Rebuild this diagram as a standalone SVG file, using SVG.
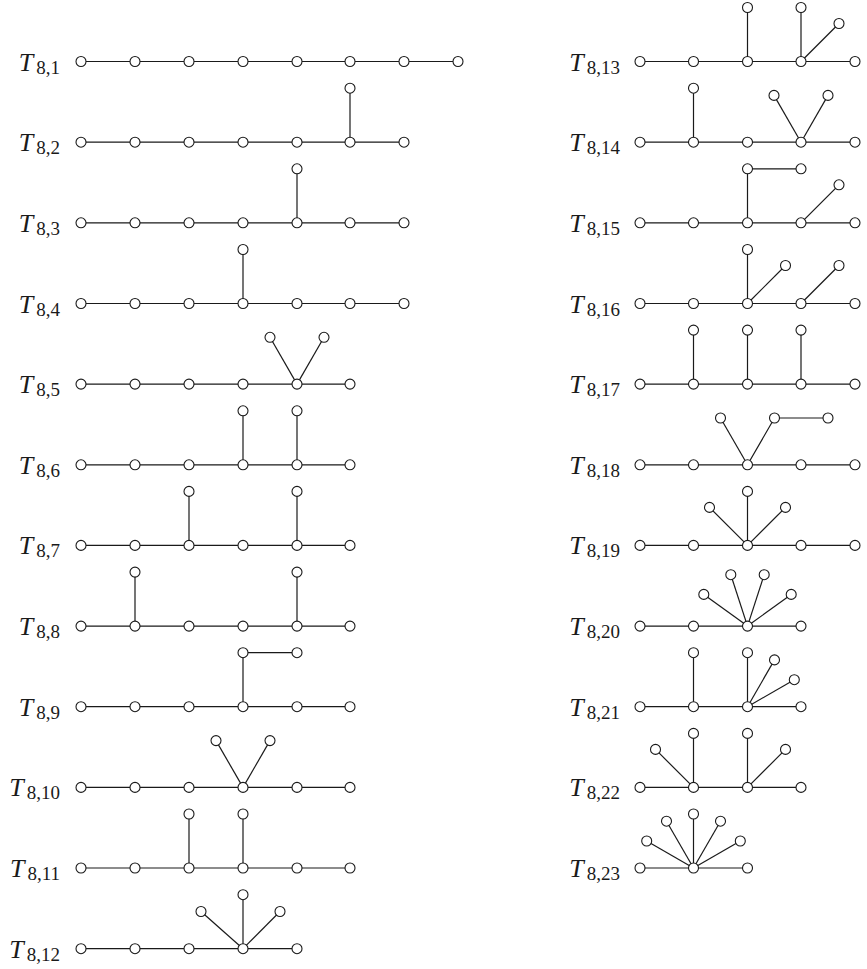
<svg xmlns="http://www.w3.org/2000/svg" width="867" height="969" viewBox="0 0 867 969">
<style>
.e line, .e polyline { stroke: #1a1a1a; stroke-width: 1.2; fill: none; }
circle { fill: #ffffff; stroke: #1a1a1a; stroke-width: 1.1; }
.lbl { font-family: "Liberation Serif", "DejaVu Serif", serif; font-size: 26px; fill: #1a1a1a; }
.lbl .T { font-style: italic; }
.lbl .s { font-size: 19px; }
</style>
<rect width="867" height="969" fill="#ffffff"/>
<g id="connectors" class="e">
<line x1="81" y1="61.5" x2="458" y2="61.5"/>
<line x1="81" y1="142.2" x2="404" y2="142.2"/><line x1="350" y1="142.2" x2="350" y2="88.2"/>
<line x1="81" y1="222.8" x2="404" y2="222.8"/><line x1="297" y1="222.8" x2="297" y2="168.8"/>
<line x1="81" y1="303.5" x2="404" y2="303.5"/><line x1="243" y1="303.5" x2="243" y2="249.5"/>
<line x1="81" y1="384.1" x2="350" y2="384.1"/><line x1="297" y1="384.1" x2="270" y2="337.3"/><line x1="297" y1="384.1" x2="324" y2="337.3"/>
<line x1="81" y1="464.8" x2="350" y2="464.8"/><line x1="243" y1="464.8" x2="243" y2="410.8"/><line x1="297" y1="464.8" x2="297" y2="410.8"/>
<line x1="81" y1="545.4" x2="350" y2="545.4"/><line x1="189" y1="545.4" x2="189" y2="491.4"/><line x1="297" y1="545.4" x2="297" y2="491.4"/>
<line x1="81" y1="626.1" x2="350" y2="626.1"/><line x1="135" y1="626.1" x2="135" y2="572.1"/><line x1="297" y1="626.1" x2="297" y2="572.1"/>
<line x1="81" y1="706.7" x2="350" y2="706.7"/><polyline points="243,706.7 243,652.7 297,652.7"/>
<line x1="81" y1="787.4" x2="350" y2="787.4"/><line x1="243" y1="787.4" x2="216" y2="740.6"/><line x1="243" y1="787.4" x2="270" y2="740.6"/>
<line x1="81" y1="868" x2="350" y2="868"/><line x1="189" y1="868" x2="189" y2="814"/><line x1="243" y1="868" x2="243" y2="814"/>
<line x1="81" y1="948.7" x2="297" y2="948.7"/><line x1="243" y1="948.7" x2="243" y2="894.7"/><line x1="243" y1="948.7" x2="201" y2="911.5"/><line x1="243" y1="948.7" x2="280" y2="911.5"/>
<line x1="640" y1="61.5" x2="855" y2="61.5"/><line x1="747.5" y1="61.5" x2="747.5" y2="7.5"/><line x1="801" y1="61.5" x2="801" y2="7.5"/><line x1="801" y1="61.5" x2="839" y2="23.5"/>
<line x1="640" y1="142.2" x2="855" y2="142.2"/><line x1="693.5" y1="142.2" x2="693.5" y2="88.2"/><line x1="801" y1="142.2" x2="774" y2="95.4"/><line x1="801" y1="142.2" x2="828" y2="95.4"/>
<line x1="640" y1="222.8" x2="855" y2="222.8"/><polyline points="747.5,222.8 747.5,168.8 801,168.8"/><line x1="801" y1="222.8" x2="839" y2="184.8"/>
<line x1="640" y1="303.5" x2="855" y2="303.5"/><line x1="747.5" y1="303.5" x2="747.5" y2="249.5"/><line x1="747.5" y1="303.5" x2="785.5" y2="265.5"/><line x1="801" y1="303.5" x2="839" y2="265.5"/>
<line x1="640" y1="384.1" x2="855" y2="384.1"/><line x1="693.5" y1="384.1" x2="693.5" y2="330.1"/><line x1="747.5" y1="384.1" x2="747.5" y2="330.1"/><line x1="801" y1="384.1" x2="801" y2="330.1"/>
<line x1="640" y1="464.8" x2="855" y2="464.8"/><line x1="747.5" y1="464.8" x2="720.5" y2="418"/><polyline points="747.5,464.8 774.5,418 828,418"/>
<line x1="640" y1="545.4" x2="855" y2="545.4"/><line x1="747.5" y1="545.4" x2="747.5" y2="491.4"/><line x1="747.5" y1="545.4" x2="709.5" y2="507.4"/><line x1="747.5" y1="545.4" x2="785.5" y2="507.4"/>
<line x1="640" y1="626.1" x2="801" y2="626.1"/><line x1="747.5" y1="626.1" x2="703.8" y2="594.4"/><line x1="747.5" y1="626.1" x2="730.8" y2="574.7"/><line x1="747.5" y1="626.1" x2="764.2" y2="574.7"/><line x1="747.5" y1="626.1" x2="791.2" y2="594.4"/>
<line x1="640" y1="706.7" x2="801" y2="706.7"/><line x1="693.5" y1="706.7" x2="693.5" y2="652.7"/><line x1="747.5" y1="706.7" x2="747.5" y2="652.7"/><line x1="747.5" y1="706.7" x2="774.5" y2="659.9"/><line x1="747.5" y1="706.7" x2="794.3" y2="679.7"/>
<line x1="640" y1="787.4" x2="801" y2="787.4"/><line x1="693.5" y1="787.4" x2="693.5" y2="733.4"/><line x1="693.5" y1="787.4" x2="655.5" y2="749.4"/><line x1="747.5" y1="787.4" x2="747.5" y2="733.4"/><line x1="747.5" y1="787.4" x2="785.5" y2="749.4"/>
<line x1="640" y1="868" x2="747.5" y2="868"/><line x1="693.5" y1="868" x2="646.7" y2="841"/><line x1="693.5" y1="868" x2="666.5" y2="821.2"/><line x1="693.5" y1="868" x2="693.5" y2="814"/><line x1="693.5" y1="868" x2="720.5" y2="821.2"/><line x1="693.5" y1="868" x2="740.3" y2="841"/>
</g>

<g id="T8_1">
<text class="lbl" x="60" y="70.5" text-anchor="end"><tspan class="T">T</tspan><tspan class="s" dx="3" dy="3">8,1</tspan></text>
<circle cx="81" cy="61.5" r="5"/><circle cx="135" cy="61.5" r="5"/><circle cx="189" cy="61.5" r="5"/><circle cx="243" cy="61.5" r="5"/><circle cx="297" cy="61.5" r="5"/><circle cx="350" cy="61.5" r="5"/><circle cx="404" cy="61.5" r="5"/><circle cx="458" cy="61.5" r="5"/>
</g>
<g id="T8_2">
<text class="lbl" x="60" y="151.2" text-anchor="end"><tspan class="T">T</tspan><tspan class="s" dx="3" dy="3">8,2</tspan></text>
<circle cx="81" cy="142.2" r="5"/><circle cx="135" cy="142.2" r="5"/><circle cx="189" cy="142.2" r="5"/><circle cx="243" cy="142.2" r="5"/><circle cx="297" cy="142.2" r="5"/><circle cx="350" cy="142.2" r="5"/><circle cx="404" cy="142.2" r="5"/><circle cx="350" cy="88.2" r="5"/>
</g>
<g id="T8_3">
<text class="lbl" x="60" y="231.8" text-anchor="end"><tspan class="T">T</tspan><tspan class="s" dx="3" dy="3">8,3</tspan></text>
<circle cx="81" cy="222.8" r="5"/><circle cx="135" cy="222.8" r="5"/><circle cx="189" cy="222.8" r="5"/><circle cx="243" cy="222.8" r="5"/><circle cx="297" cy="222.8" r="5"/><circle cx="350" cy="222.8" r="5"/><circle cx="404" cy="222.8" r="5"/><circle cx="297" cy="168.8" r="5"/>
</g>
<g id="T8_4">
<text class="lbl" x="60" y="312.5" text-anchor="end"><tspan class="T">T</tspan><tspan class="s" dx="3" dy="3">8,4</tspan></text>
<circle cx="81" cy="303.5" r="5"/><circle cx="135" cy="303.5" r="5"/><circle cx="189" cy="303.5" r="5"/><circle cx="243" cy="303.5" r="5"/><circle cx="297" cy="303.5" r="5"/><circle cx="350" cy="303.5" r="5"/><circle cx="404" cy="303.5" r="5"/><circle cx="243" cy="249.5" r="5"/>
</g>
<g id="T8_5">
<text class="lbl" x="60" y="393.1" text-anchor="end"><tspan class="T">T</tspan><tspan class="s" dx="3" dy="3">8,5</tspan></text>
<circle cx="81" cy="384.1" r="5"/><circle cx="135" cy="384.1" r="5"/><circle cx="189" cy="384.1" r="5"/><circle cx="243" cy="384.1" r="5"/><circle cx="297" cy="384.1" r="5"/><circle cx="350" cy="384.1" r="5"/><circle cx="270" cy="337.3" r="5"/><circle cx="324" cy="337.3" r="5"/>
</g>
<g id="T8_6">
<text class="lbl" x="60" y="473.8" text-anchor="end"><tspan class="T">T</tspan><tspan class="s" dx="3" dy="3">8,6</tspan></text>
<circle cx="81" cy="464.8" r="5"/><circle cx="135" cy="464.8" r="5"/><circle cx="189" cy="464.8" r="5"/><circle cx="243" cy="464.8" r="5"/><circle cx="297" cy="464.8" r="5"/><circle cx="350" cy="464.8" r="5"/><circle cx="243" cy="410.8" r="5"/><circle cx="297" cy="410.8" r="5"/>
</g>
<g id="T8_7">
<text class="lbl" x="60" y="554.4" text-anchor="end"><tspan class="T">T</tspan><tspan class="s" dx="3" dy="3">8,7</tspan></text>
<circle cx="81" cy="545.4" r="5"/><circle cx="135" cy="545.4" r="5"/><circle cx="189" cy="545.4" r="5"/><circle cx="243" cy="545.4" r="5"/><circle cx="297" cy="545.4" r="5"/><circle cx="350" cy="545.4" r="5"/><circle cx="189" cy="491.4" r="5"/><circle cx="297" cy="491.4" r="5"/>
</g>
<g id="T8_8">
<text class="lbl" x="60" y="635.1" text-anchor="end"><tspan class="T">T</tspan><tspan class="s" dx="3" dy="3">8,8</tspan></text>
<circle cx="81" cy="626.1" r="5"/><circle cx="135" cy="626.1" r="5"/><circle cx="189" cy="626.1" r="5"/><circle cx="243" cy="626.1" r="5"/><circle cx="297" cy="626.1" r="5"/><circle cx="350" cy="626.1" r="5"/><circle cx="135" cy="572.1" r="5"/><circle cx="297" cy="572.1" r="5"/>
</g>
<g id="T8_9">
<text class="lbl" x="60" y="715.7" text-anchor="end"><tspan class="T">T</tspan><tspan class="s" dx="3" dy="3">8,9</tspan></text>
<circle cx="81" cy="706.7" r="5"/><circle cx="135" cy="706.7" r="5"/><circle cx="189" cy="706.7" r="5"/><circle cx="243" cy="706.7" r="5"/><circle cx="297" cy="706.7" r="5"/><circle cx="350" cy="706.7" r="5"/><circle cx="243" cy="652.7" r="5"/><circle cx="297" cy="652.7" r="5"/>
</g>
<g id="T8_10">
<text class="lbl" x="60" y="796.4" text-anchor="end"><tspan class="T">T</tspan><tspan class="s" dx="3" dy="3">8,10</tspan></text>
<circle cx="81" cy="787.4" r="5"/><circle cx="135" cy="787.4" r="5"/><circle cx="189" cy="787.4" r="5"/><circle cx="243" cy="787.4" r="5"/><circle cx="297" cy="787.4" r="5"/><circle cx="350" cy="787.4" r="5"/><circle cx="216" cy="740.6" r="5"/><circle cx="270" cy="740.6" r="5"/>
</g>
<g id="T8_11">
<text class="lbl" x="60" y="877" text-anchor="end"><tspan class="T">T</tspan><tspan class="s" dx="3" dy="3">8,11</tspan></text>
<circle cx="81" cy="868" r="5"/><circle cx="135" cy="868" r="5"/><circle cx="189" cy="868" r="5"/><circle cx="243" cy="868" r="5"/><circle cx="297" cy="868" r="5"/><circle cx="350" cy="868" r="5"/><circle cx="189" cy="814" r="5"/><circle cx="243" cy="814" r="5"/>
</g>
<g id="T8_12">
<text class="lbl" x="60" y="957.7" text-anchor="end"><tspan class="T">T</tspan><tspan class="s" dx="3" dy="3">8,12</tspan></text>
<circle cx="81" cy="948.7" r="5"/><circle cx="135" cy="948.7" r="5"/><circle cx="189" cy="948.7" r="5"/><circle cx="243" cy="948.7" r="5"/><circle cx="297" cy="948.7" r="5"/><circle cx="243" cy="894.7" r="5"/><circle cx="201" cy="911.5" r="5"/><circle cx="280" cy="911.5" r="5"/>
</g>

<g id="T8_13">
<text class="lbl" x="620" y="70.5" text-anchor="end"><tspan class="T">T</tspan><tspan class="s" dx="3" dy="3">8,13</tspan></text>
<circle cx="640" cy="61.5" r="5"/><circle cx="693.5" cy="61.5" r="5"/><circle cx="747.5" cy="61.5" r="5"/><circle cx="801" cy="61.5" r="5"/><circle cx="855" cy="61.5" r="5"/><circle cx="747.5" cy="7.5" r="5"/><circle cx="801" cy="7.5" r="5"/><circle cx="839" cy="23.5" r="5"/>
</g>
<g id="T8_14">
<text class="lbl" x="620" y="151.2" text-anchor="end"><tspan class="T">T</tspan><tspan class="s" dx="3" dy="3">8,14</tspan></text>
<circle cx="640" cy="142.2" r="5"/><circle cx="693.5" cy="142.2" r="5"/><circle cx="747.5" cy="142.2" r="5"/><circle cx="801" cy="142.2" r="5"/><circle cx="855" cy="142.2" r="5"/><circle cx="693.5" cy="88.2" r="5"/><circle cx="774" cy="95.4" r="5"/><circle cx="828" cy="95.4" r="5"/>
</g>
<g id="T8_15">
<text class="lbl" x="620" y="231.8" text-anchor="end"><tspan class="T">T</tspan><tspan class="s" dx="3" dy="3">8,15</tspan></text>
<circle cx="640" cy="222.8" r="5"/><circle cx="693.5" cy="222.8" r="5"/><circle cx="747.5" cy="222.8" r="5"/><circle cx="801" cy="222.8" r="5"/><circle cx="855" cy="222.8" r="5"/><circle cx="747.5" cy="168.8" r="5"/><circle cx="801" cy="168.8" r="5"/><circle cx="839" cy="184.8" r="5"/>
</g>
<g id="T8_16">
<text class="lbl" x="620" y="312.5" text-anchor="end"><tspan class="T">T</tspan><tspan class="s" dx="3" dy="3">8,16</tspan></text>
<circle cx="640" cy="303.5" r="5"/><circle cx="693.5" cy="303.5" r="5"/><circle cx="747.5" cy="303.5" r="5"/><circle cx="801" cy="303.5" r="5"/><circle cx="855" cy="303.5" r="5"/><circle cx="747.5" cy="249.5" r="5"/><circle cx="785.5" cy="265.5" r="5"/><circle cx="839" cy="265.5" r="5"/>
</g>
<g id="T8_17">
<text class="lbl" x="620" y="393.1" text-anchor="end"><tspan class="T">T</tspan><tspan class="s" dx="3" dy="3">8,17</tspan></text>
<circle cx="640" cy="384.1" r="5"/><circle cx="693.5" cy="384.1" r="5"/><circle cx="747.5" cy="384.1" r="5"/><circle cx="801" cy="384.1" r="5"/><circle cx="855" cy="384.1" r="5"/><circle cx="693.5" cy="330.1" r="5"/><circle cx="747.5" cy="330.1" r="5"/><circle cx="801" cy="330.1" r="5"/>
</g>
<g id="T8_18">
<text class="lbl" x="620" y="473.8" text-anchor="end"><tspan class="T">T</tspan><tspan class="s" dx="3" dy="3">8,18</tspan></text>
<circle cx="640" cy="464.8" r="5"/><circle cx="693.5" cy="464.8" r="5"/><circle cx="747.5" cy="464.8" r="5"/><circle cx="801" cy="464.8" r="5"/><circle cx="855" cy="464.8" r="5"/><circle cx="720.5" cy="418" r="5"/><circle cx="774.5" cy="418" r="5"/><circle cx="828" cy="418" r="5"/>
</g>
<g id="T8_19">
<text class="lbl" x="620" y="554.4" text-anchor="end"><tspan class="T">T</tspan><tspan class="s" dx="3" dy="3">8,19</tspan></text>
<circle cx="640" cy="545.4" r="5"/><circle cx="693.5" cy="545.4" r="5"/><circle cx="747.5" cy="545.4" r="5"/><circle cx="801" cy="545.4" r="5"/><circle cx="855" cy="545.4" r="5"/><circle cx="747.5" cy="491.4" r="5"/><circle cx="709.5" cy="507.4" r="5"/><circle cx="785.5" cy="507.4" r="5"/>
</g>
<g id="T8_20">
<text class="lbl" x="620" y="635.1" text-anchor="end"><tspan class="T">T</tspan><tspan class="s" dx="3" dy="3">8,20</tspan></text>
<circle cx="640" cy="626.1" r="5"/><circle cx="693.5" cy="626.1" r="5"/><circle cx="747.5" cy="626.1" r="5"/><circle cx="801" cy="626.1" r="5"/><circle cx="703.8" cy="594.4" r="5"/><circle cx="730.8" cy="574.7" r="5"/><circle cx="764.2" cy="574.7" r="5"/><circle cx="791.2" cy="594.4" r="5"/>
</g>
<g id="T8_21">
<text class="lbl" x="620" y="715.7" text-anchor="end"><tspan class="T">T</tspan><tspan class="s" dx="3" dy="3">8,21</tspan></text>
<circle cx="640" cy="706.7" r="5"/><circle cx="693.5" cy="706.7" r="5"/><circle cx="747.5" cy="706.7" r="5"/><circle cx="801" cy="706.7" r="5"/><circle cx="693.5" cy="652.7" r="5"/><circle cx="747.5" cy="652.7" r="5"/><circle cx="774.5" cy="659.9" r="5"/><circle cx="794.3" cy="679.7" r="5"/>
</g>
<g id="T8_22">
<text class="lbl" x="620" y="796.4" text-anchor="end"><tspan class="T">T</tspan><tspan class="s" dx="3" dy="3">8,22</tspan></text>
<circle cx="640" cy="787.4" r="5"/><circle cx="693.5" cy="787.4" r="5"/><circle cx="747.5" cy="787.4" r="5"/><circle cx="801" cy="787.4" r="5"/><circle cx="693.5" cy="733.4" r="5"/><circle cx="655.5" cy="749.4" r="5"/><circle cx="747.5" cy="733.4" r="5"/><circle cx="785.5" cy="749.4" r="5"/>
</g>
<g id="T8_23">
<text class="lbl" x="620" y="877" text-anchor="end"><tspan class="T">T</tspan><tspan class="s" dx="3" dy="3">8,23</tspan></text>
<circle cx="640" cy="868" r="5"/><circle cx="693.5" cy="868" r="5"/><circle cx="747.5" cy="868" r="5"/><circle cx="646.7" cy="841" r="5"/><circle cx="666.5" cy="821.2" r="5"/><circle cx="693.5" cy="814" r="5"/><circle cx="720.5" cy="821.2" r="5"/><circle cx="740.3" cy="841" r="5"/>
</g>
</svg>
